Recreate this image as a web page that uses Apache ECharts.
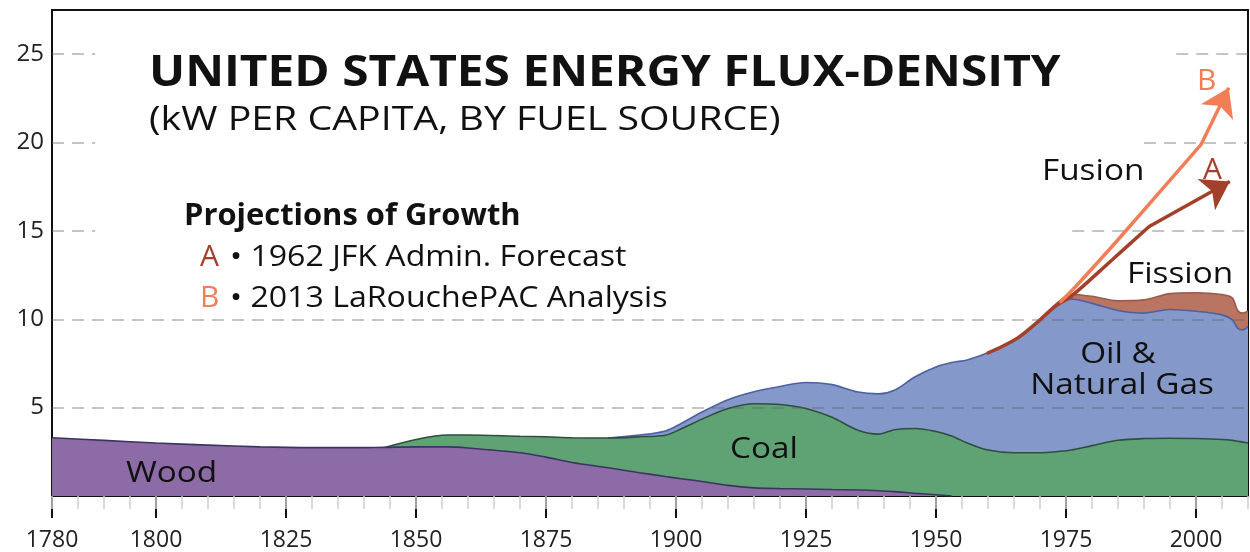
<!DOCTYPE html>
<html><head><meta charset="utf-8">
<script src="https://cdn.jsdelivr.net/npm/echarts@6/dist/echarts.min.js"></script>
<style>html,body{margin:0;padding:0;background:#fff}#c{width:1250px;height:552px}</style>
</head><body><div id="c"></div>
<script>
const _ = null;
const years = [1780,1790,1800,1810,1820,1830,1840,1844,1850,1856,1860,1870,1875,1880,1887,1893,1898,1901,1905,1910,1915,1920,1925,1930,1935,1939,1942,1946,1950,1953,1956,1960,1965,1970,1973,1976,1980,1985,1990,1995,2000,2005,2007,2008,2009,2010];
// kW per capita by fuel source (layer thickness)
const wood = [3.3,3.15,3.0,2.88,2.78,2.74,2.74,2.75,2.78,2.78,2.72,2.45,2.2,1.9,1.6,1.32,1.1,0.98,0.82,0.6,0.46,0.42,0.4,0.37,0.34,0.3,0.25,0.15,0.07,0,_,_,_,_,_,_,_,_,_,_,_,_,_,_,_,_];
const coal = [_,_,_,_,_,_,_,0,0.42,0.67,0.73,0.93,1.15,1.4,1.68,2.03,2.34,2.82,3.53,4.35,4.76,4.76,4.55,4.08,3.38,3.2,3.5,3.67,3.58,3.4,3.0,2.6,2.45,2.45,2.5,2.6,2.85,3.15,3.25,3.27,3.25,3.2,3.15,3.1,3.05,3.0];
const oilGas = [_,_,_,_,_,_,_,_,_,_,_,_,_,_,0,0.1,0.24,0.3,0.4,0.5,0.68,1.02,1.47,1.85,2.16,2.28,2.23,2.93,3.65,4.15,4.7,5.5,6.35,7.5,8.25,8.55,8.05,7.35,7.1,7.28,7.2,7.05,6.82,6.4,6.35,6.6];
const fission = [_,_,_,_,_,_,_,_,_,_,_,_,_,_,_,_,_,_,_,_,_,_,_,_,_,_,_,_,_,_,_,_,_,0,0.1,0.27,0.4,0.55,0.75,0.9,1.05,1.15,1.23,1.0,0.95,0.85];
// projections (total kW per capita)
const projA = [[1960,8.1],[1963,8.5],[1966,9.0],[1970,9.97],[1973,10.75],[1976,11.3],[1984,13.4],[1991,15.25],[2006.5,17.8]];
const projB = [[1974,11.0],[1977,11.9],[1985,14.5],[2001,19.9],[2006.3,23.1]];
const xTickLabels = [1780,1800,1825,1850,1875,1900,1925,1950,1975,2000];
const yTickLabels = [5,10,15,20,25];
const xMinorTicks = [];
for (let y = 1780; y <= 2010; y += 5) xMinorTicks.push(y);

const FONT = 'Open Sans';
const chart = echarts.init(document.getElementById('c'), null, {renderer:'canvas'});

// cumulative tops for stacked drawing
const base = years.map(() => 0);
const layers = [wood, coal, oilGas, fission].map(arr => {
  const out = [];
  arr.forEach((v, i) => { if (v == null) return; base[i] += v; out.push([years[i], +base[i].toFixed(3)]); });
  return out;
});

function areaSeries(name, data, fill, stroke) {
  return {type:'line', name, data, symbol:'none', smooth:0.3, z:2, silent:true,
    lineStyle:{color:stroke, width:1.6}, areaStyle:{color:fill, opacity:1}};
}
function projSeries(name, pts, color) {
  const n = pts.length;
  return {type:'line', name, data: pts.slice(0, n-1), symbol:'none', smooth:0.35, z:5, silent:true,
    lineStyle:{color, width:3.5, cap:'round'},
    markLine:{silent:true, symbol:['none','arrow'], symbolSize:27, label:{show:false},
      lineStyle:{color, width:3.5, type:'solid'}, emphasis:{disabled:true},
      data:[[{coord:pts[n-2]},{coord:pts[n-1]}]]}};
}
const gridSegs = [[25,1780,1788.3],[25,1996.2,2010],[20,1780,1788.3],[20,1990,2010],[15,1780,1788.3],[15,1976.2,2010],[10,1780,2010],[5,1780,2010]];

function txt(text, x, y, size, color, weight, align, sx) {
  return {type:'text', x, y, scaleX:sx||1, z:10, silent:true, style:{text, fill:color||'#111', fontSize:size, fontFamily:FONT,
    fontWeight:weight||'normal', align:align||'left', verticalAlign:'middle', textAlign:align||'left', textVerticalAlign:'middle'}};
}

chart.setOption({
  animation:false,
  grid:{left:52, right:2, top:10, bottom:53, show:true, borderColor:'#111', borderWidth:2, backgroundColor:'transparent'},
  xAxis:[
    {type:'value', min:1780, max:2010, position:'bottom',
      axisLine:{show:true, onZero:false, lineStyle:{color:'#111', width:2}},
      axisTick:{show:true, customValues:xTickLabels, length:22, lineStyle:{color:'#111', width:2}},
      axisLabel:{customValues:xTickLabels, formatter:v => String(v), fontSize:23, fontFamily:FONT, color:'#222', margin:33},
      splitLine:{show:false}},
    {type:'value', min:1780, max:2010, position:'bottom', gridIndex:0,
      axisLine:{show:false}, axisTick:{show:true, customValues:xMinorTicks, length:13, lineStyle:{color:'#d0d0d0', width:1.5}},
      axisLabel:{show:false}, splitLine:{show:false}}
  ],
  yAxis:{type:'value', min:0, max:27.5,
    axisLine:{show:true, lineStyle:{color:'#111', width:2}}, axisTick:{show:false},
    axisLabel:{customValues:yTickLabels, fontSize:24, fontFamily:FONT, color:'#222', margin:8},
    splitLine:{show:false}},
  series:[
    areaSeries('Fission', layers[3], '#B97562', '#9a5b4a'),
    areaSeries('Oil & Natural Gas', layers[2], '#8499C9', '#4f5fa3'),
    areaSeries('Coal', layers[1], '#5FA374', '#2f4e40'),
    areaSeries('Wood', layers[0], '#8C6BA6', '#3b3562'),
    {type:'line', name:'grid', data:[], z:4, silent:true,
      markLine:{silent:true, symbol:['none','none'], label:{show:false}, emphasis:{disabled:true},
        lineStyle:{type:[12,8], color:'rgba(100,100,100,0.5)', width:1.5},
        data: gridSegs.map(([y,a,b]) => [{coord:[a,y]},{coord:[b,y]}])}},
    projSeries('A', projA, '#A3402A'),
    projSeries('B', projB, '#F27E57')
  ],
  graphic:[
    txt('UNITED STATES ENERGY FLUX-DENSITY', 149, 74, 43, '#111', 'bold', 'left', 1.112),
    txt('(kW PER CAPITA, BY FUEL SOURCE)', 149, 121, 33, '#111', 'normal', 'left', 1.19),
    txt('Projections of Growth', 184, 216, 30, '#111', 'bold', 'left', 1.03),
    txt('A', 200, 257, 30, '#A3402A'),
    txt('• 1962 JFK Admin. Forecast', 230, 257, 30, '#111', 'normal', 'left', 1.07),
    txt('B', 200, 298, 30, '#F27E57'),
    txt('• 2013 LaRouchePAC Analysis', 230, 298, 30, '#111', 'normal', 'left', 1.07),
    txt('Fusion', 1042, 171, 30, '#111', 'normal', 'left', 1.11),
    txt('A', 1203, 170, 30, '#A3402A'),
    txt('B', 1197, 81, 30, '#F27E57'),
    txt('Fission', 1127, 274, 30, '#111', 'normal', 'left', 1.11),
    txt('Oil &', 1118, 354, 30, '#111', 'normal', 'center', 1.11),
    txt('Natural Gas', 1122, 385, 30, '#111', 'normal', 'center', 1.11),
    txt('Coal', 730, 449, 30, '#111', 'normal', 'left', 1.11),
    txt('Wood', 126, 473, 30, '#111', 'normal', 'left', 1.11)
  ]
});
</script></body></html>
